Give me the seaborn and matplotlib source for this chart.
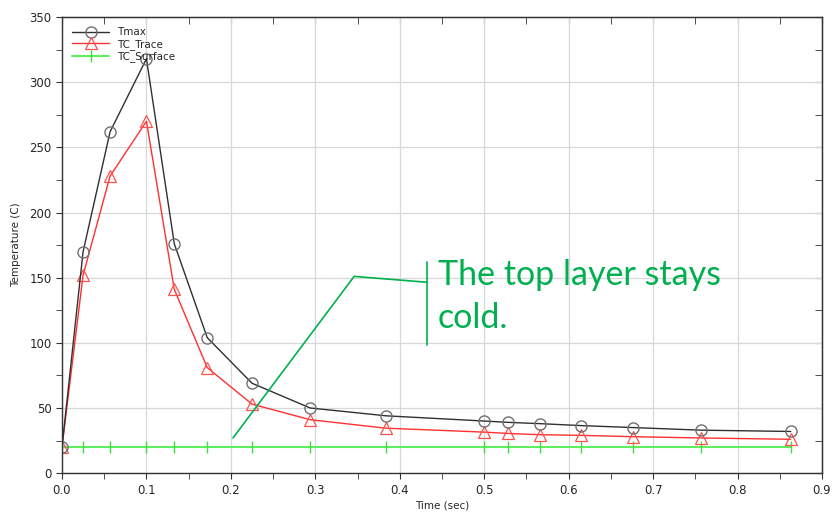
import numpy as np
import pandas as pd
import matplotlib
matplotlib.use("Agg")
import matplotlib.pyplot as plt
import seaborn as sns
from matplotlib.ticker import MultipleLocator

time_s = [0.0, 0.025, 0.057, 0.1, 0.133, 0.172, 0.225, 0.294, 0.384, 0.5, 0.528, 0.566, 0.615, 0.676, 0.757, 0.863]
tmax = [20, 170, 262, 318, 176, 104, 69, 50, 44, 40, 39, 38, 36.5, 35, 33, 32]
tc_trace = [20, 152, 228, 270, 141, 81, 53, 41, 34.5, 31.5, 30.5, 29.5, 29, 28, 27, 26]
tc_surface = [20] * 16
series_names = ["Tmax", "TC_Trace", "TC_Surface"]

annot_x = [0.2025, 0.346, 0.432]
annot_y = [27, 151, 146.5]
annot_text = "The top layer stays\ncold."

df = pd.DataFrame({
    "Time (sec)": time_s * 3,
    "Temperature (C)": tmax + tc_trace + tc_surface,
    "series": sum([[n] * len(time_s) for n in series_names], []),
})

sns.set_style("white")
plt.rcParams['font.family'] = ['DejaVu Sans']

fig, ax = plt.subplots(figsize=(8.32, 5.16), dpi=100)
fig.subplots_adjust(left=0.0745, right=0.988, top=0.967, bottom=0.083)

styles = {
    "Tmax": dict(color="#303030", marker="o", ms=8, mfc="none", mec="#707070", mew=1.0, lw=1.0),
    "TC_Trace": dict(color="#ff3030", marker="^", ms=8, mfc="none", mec="#ff5050", mew=0.9, lw=1.0),
    "TC_Surface": dict(color="#60ee60", marker="|", ms=8, mfc="none", mec="#40dd40", mew=1.0, lw=1.5),
}
for name in ["TC_Surface", "TC_Trace", "Tmax"]:
    st = styles[name]
    sns.lineplot(data=df[df.series == name], x="Time (sec)", y="Temperature (C)",
                 ax=ax, label=name, color=st["color"], marker=st["marker"],
                 markersize=st["ms"], markerfacecolor=st["mfc"], markeredgecolor=st["mec"],
                 markeredgewidth=st["mew"], linewidth=st["lw"], estimator=None, sort=False)

ax.set_xlim(0, 0.9)
ax.set_ylim(0, 350)
ax.xaxis.set_major_locator(MultipleLocator(0.1))
ax.xaxis.set_minor_locator(MultipleLocator(0.05))
ax.yaxis.set_major_locator(MultipleLocator(50))
ax.yaxis.set_minor_locator(MultipleLocator(25))
ax.xaxis.set_major_formatter(matplotlib.ticker.FormatStrFormatter('%.1f'))
ax.grid(True, which="major", color="#d8d8d8", lw=0.9)
ax.tick_params(which="both", direction="out", length=4, color="#333333", labelsize=8.5,
               bottom=True, left=True, top=False, right=False)
for s in ax.spines.values():
    s.set_color("#333333")
    s.set_linewidth(1.0)
sec = dict(which="both", direction="in", length=5, color="#333333")
axt = ax.secondary_xaxis("top")
axt.xaxis.set_major_locator(MultipleLocator(0.1))
axt.xaxis.set_minor_locator(MultipleLocator(0.05))
axt.tick_params(labeltop=False, **sec)
axr = ax.secondary_yaxis("right")
axr.yaxis.set_major_locator(MultipleLocator(50))
axr.yaxis.set_minor_locator(MultipleLocator(25))
axr.tick_params(labelright=False, **sec)

ax.set_xlabel("Time (sec)", fontsize=7.5, labelpad=3)
ax.set_ylabel("Temperature (C)", fontsize=7.5, labelpad=6)

handles, labels = ax.get_legend_handles_labels()
order = [labels.index(n) for n in series_names]
ax.legend([handles[i] for i in order], [labels[i] for i in order], loc="upper left",
          frameon=False, fontsize=7.5, handlelength=3.5, borderaxespad=0.6,
          labelspacing=0.15, bbox_to_anchor=(0.0, 1.0))

green = "#00b050"
ax.plot(annot_x, annot_y, color=green, lw=1.2)
ax.plot([annot_x[2], annot_x[2]], [98, 162], color=green, lw=1.2)
ax.text(0.445, 164, annot_text, color=green, fontsize=24.5, family=["Lato", "DejaVu Sans"],
        va="top", ha="left", linespacing=1.42)

fig.savefig("out.png", dpi=100)
